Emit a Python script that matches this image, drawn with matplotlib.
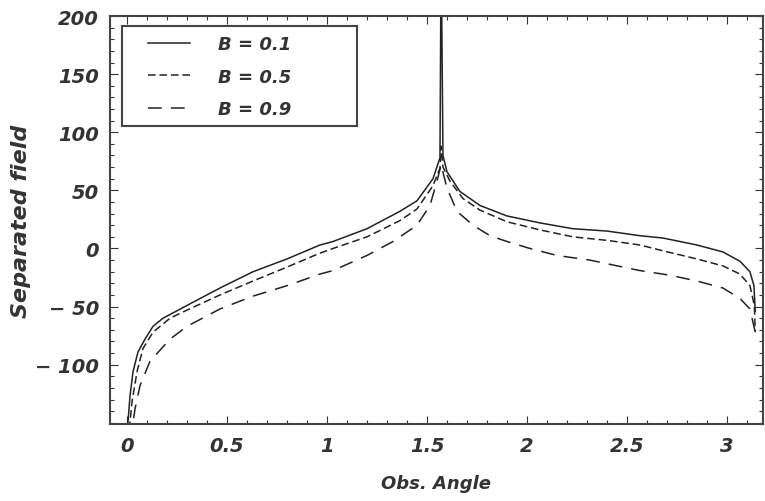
import matplotlib
matplotlib.use('Agg')
import matplotlib.pyplot as plt
from matplotlib.patches import Rectangle
from matplotlib.ticker import MultipleLocator, FixedLocator, FixedFormatter

x_b01 = [0.0, 0.015, 0.03, 0.055, 0.09, 0.13, 0.18, 0.3, 0.465, 0.63, 0.8, 0.965, 1.03,
         1.2, 1.365, 1.45, 1.53, 1.565, 1.5708, 1.58, 1.6, 1.665, 1.765, 1.9, 2.065,
         2.23, 2.4, 2.565, 2.68, 2.85, 2.98, 3.065, 3.115, 3.135, 3.1416]
y_b01 = [-160, -127, -106, -89, -78, -67, -60, -49, -34, -20, -9, 3, 6,
         17, 32, 41, 60, 78, 260, 80, 66, 49, 37, 28, 22,
         17, 15, 11, 9, 3, -3, -11, -20, -32, -54]

x_b05 = [0.0, 0.025, 0.05, 0.08, 0.13, 0.215, 0.3, 0.465, 0.63, 0.8, 0.965, 1.03,
         1.2, 1.365, 1.45, 1.53, 1.565, 1.5708, 1.58, 1.615, 1.68, 1.765, 1.9, 2.065,
         2.23, 2.4, 2.565, 2.68, 2.85, 2.98, 3.065, 3.115, 3.137, 3.1416]
y_b05 = [-175, -132, -106, -86, -72, -60, -53, -40, -28, -16, -4, 0,
         10, 24, 34, 54, 69, 88, 70, 58, 43, 33, 23, 16,
         10, 7, 3, -2, -9, -15, -22, -32, -49, -72]

x_b09 = [0.0, 0.04, 0.065, 0.115, 0.215, 0.3, 0.465, 0.63, 0.8, 0.965, 1.03,
         1.2, 1.33, 1.45, 1.515, 1.55, 1.5708, 1.6, 1.65, 1.73, 1.815, 1.9, 2.015,
         2.15, 2.315, 2.48, 2.565, 2.715, 2.85, 2.98, 3.065, 3.115, 3.1416]
y_b09 = [-185, -138, -118, -97, -78, -67, -52, -41, -32, -22, -19,
         -6, 6, 20, 37, 58, 72, 52, 32, 20, 11, 6, 0,
         -6, -10, -16, -19, -23, -28, -34, -43, -52, -72]

labels = ['B = 0.1', 'B = 0.5', 'B = 0.9']
y_ticks = [200, 150, 100, 50, 0, -50, -100]
y_tick_labels = ['200', '150', '100', '50', '0', '\u2212 50', '\u2212 100']
x_ticks = [0, 0.5, 1, 1.5, 2, 2.5, 3]
x_tick_labels = ['0', '0.5', '1', '1.5', '2', '2.5', '3']

ink = '#333333'
plt.rcParams['font.family'] = ['DejaVu Sans']
font = dict(weight='bold', style='italic', color=ink)

fig = plt.figure(figsize=(7.65, 5.02), dpi=100)
ax = fig.add_axes([0.1438, 0.1534, 0.8535, 0.8127])

ax.plot(x_b01, y_b01, color='#222222', lw=1.1, label=labels[0])
ax.plot(x_b05, y_b05, color='#222222', lw=1.1, dashes=(5, 2.5), label=labels[1])
ax.plot(x_b09, y_b09, color='#222222', lw=1.1, dashes=(9, 6), label=labels[2])

ax.set_xlim(-0.085, 3.18)
ax.set_ylim(-151, 200)

ax.xaxis.set_major_locator(FixedLocator(x_ticks))
ax.xaxis.set_major_formatter(FixedFormatter(x_tick_labels))
ax.xaxis.set_minor_locator(MultipleLocator(0.1))
ax.yaxis.set_major_locator(FixedLocator(y_ticks))
ax.yaxis.set_major_formatter(FixedFormatter(y_tick_labels))
ax.yaxis.set_minor_locator(MultipleLocator(10))

ax.tick_params(which='both', direction='in', top=True, right=True, color=ink, width=0.8)
ax.tick_params(which='major', length=6)
ax.tick_params(which='minor', length=3)
ax.tick_params(axis='y', pad=8)
ax.tick_params(axis='x', pad=9)
for lab in ax.get_xticklabels() + ax.get_yticklabels():
    lab.set_fontsize(14)
    lab.set_fontweight('bold')
    lab.set_fontstyle('italic')
    lab.set_color(ink)

for sp in ax.spines.values():
    sp.set_linewidth(1.5)
    sp.set_color('#444444')

ax.set_xlabel('Obs. Angle', fontsize=13, labelpad=13, **font)
ax.set_ylabel('Separated field', fontsize=16, labelpad=3, **font)

# legend box drawn separately so the entries can sit with wide side padding
ax.add_patch(Rectangle((0.018, 0.730), 0.36, 0.245, transform=ax.transAxes,
                       facecolor='white', edgecolor='#444444', lw=1.5, zorder=4))
leg = ax.legend(loc='upper left', bbox_to_anchor=(0.058, 0.953), frameon=False,
                handlelength=2.33, handletextpad=1.55, borderpad=0, labelspacing=0.8,
                borderaxespad=0, prop=dict(family='DejaVu Sans', weight='bold',
                                           style='italic', size=13))
leg.set_zorder(5)
for t in leg.get_texts():
    t.set_color(ink)

plt.savefig('out.png', dpi=100)
plt.close()
